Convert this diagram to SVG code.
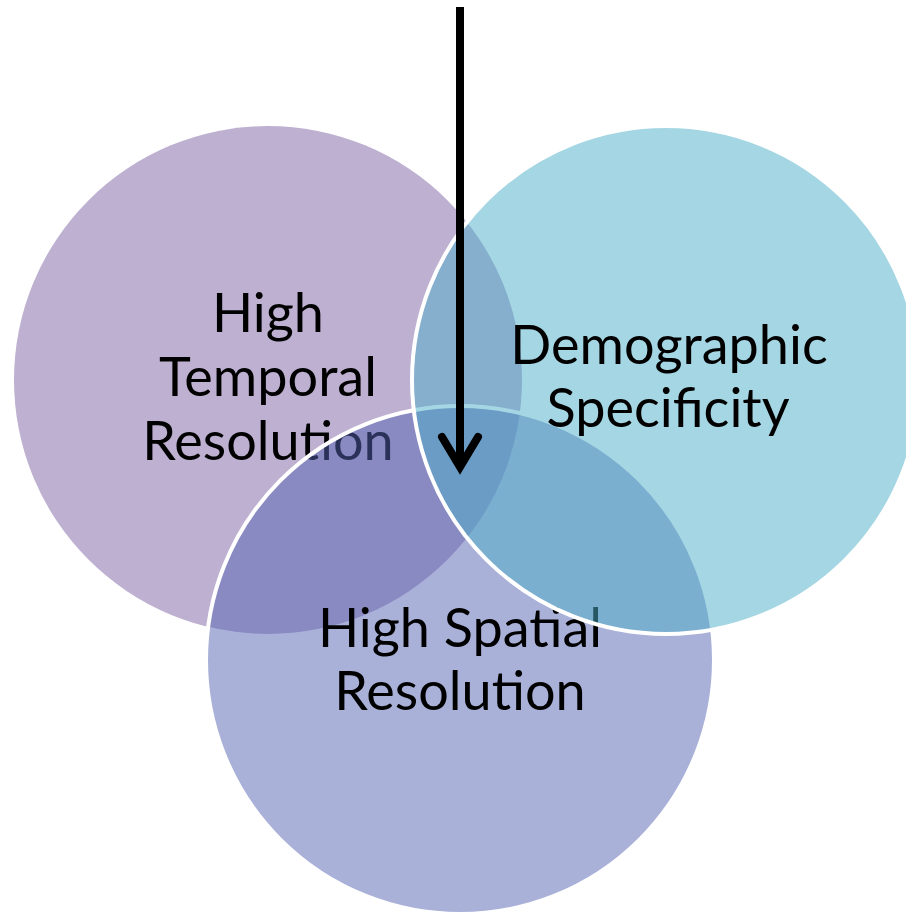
<svg xmlns="http://www.w3.org/2000/svg" width="906" height="915" viewBox="0 0 906 915">
<style>
.lbl{font-family:Lato,"Open Sans",sans-serif;font-size:54px;fill:#000;text-anchor:middle}
.ring{stroke:#fff;stroke-width:4}
</style>
<rect width="906" height="915" fill="#fff"/>
<g id="temporal">
<circle cx="268" cy="380" r="254" fill="#BEB0D1"/>
<text class="lbl" x="268" y="332">High</text>
<text class="lbl" x="268" y="396">Temporal</text>
<text class="lbl" x="268" y="460">Resolution</text>
</g>
<g id="spatial">
<circle class="ring" cx="460" cy="660" r="254" fill="#5563B3" fill-opacity="0.5"/>
<text class="lbl" x="460" y="647">High Spatial</text>
<text class="lbl" x="460" y="710">Resolution</text>
</g>
<g id="demographic">
<circle class="ring" cx="666" cy="380" r="254" fill="#4BADC7" fill-opacity="0.5"/>
<text class="lbl" x="669" y="364">Demographic</text>
<text class="lbl" x="668" y="427">Specificity</text>
</g>
<g id="connectors">
<line x1="460" y1="7" x2="460" y2="467" stroke="#000" stroke-width="8"/>
<polyline points="442,437 460,467 478,437" fill="none" stroke="#000" stroke-width="8" stroke-linecap="round" stroke-linejoin="miter"/>
</g>
</svg>
